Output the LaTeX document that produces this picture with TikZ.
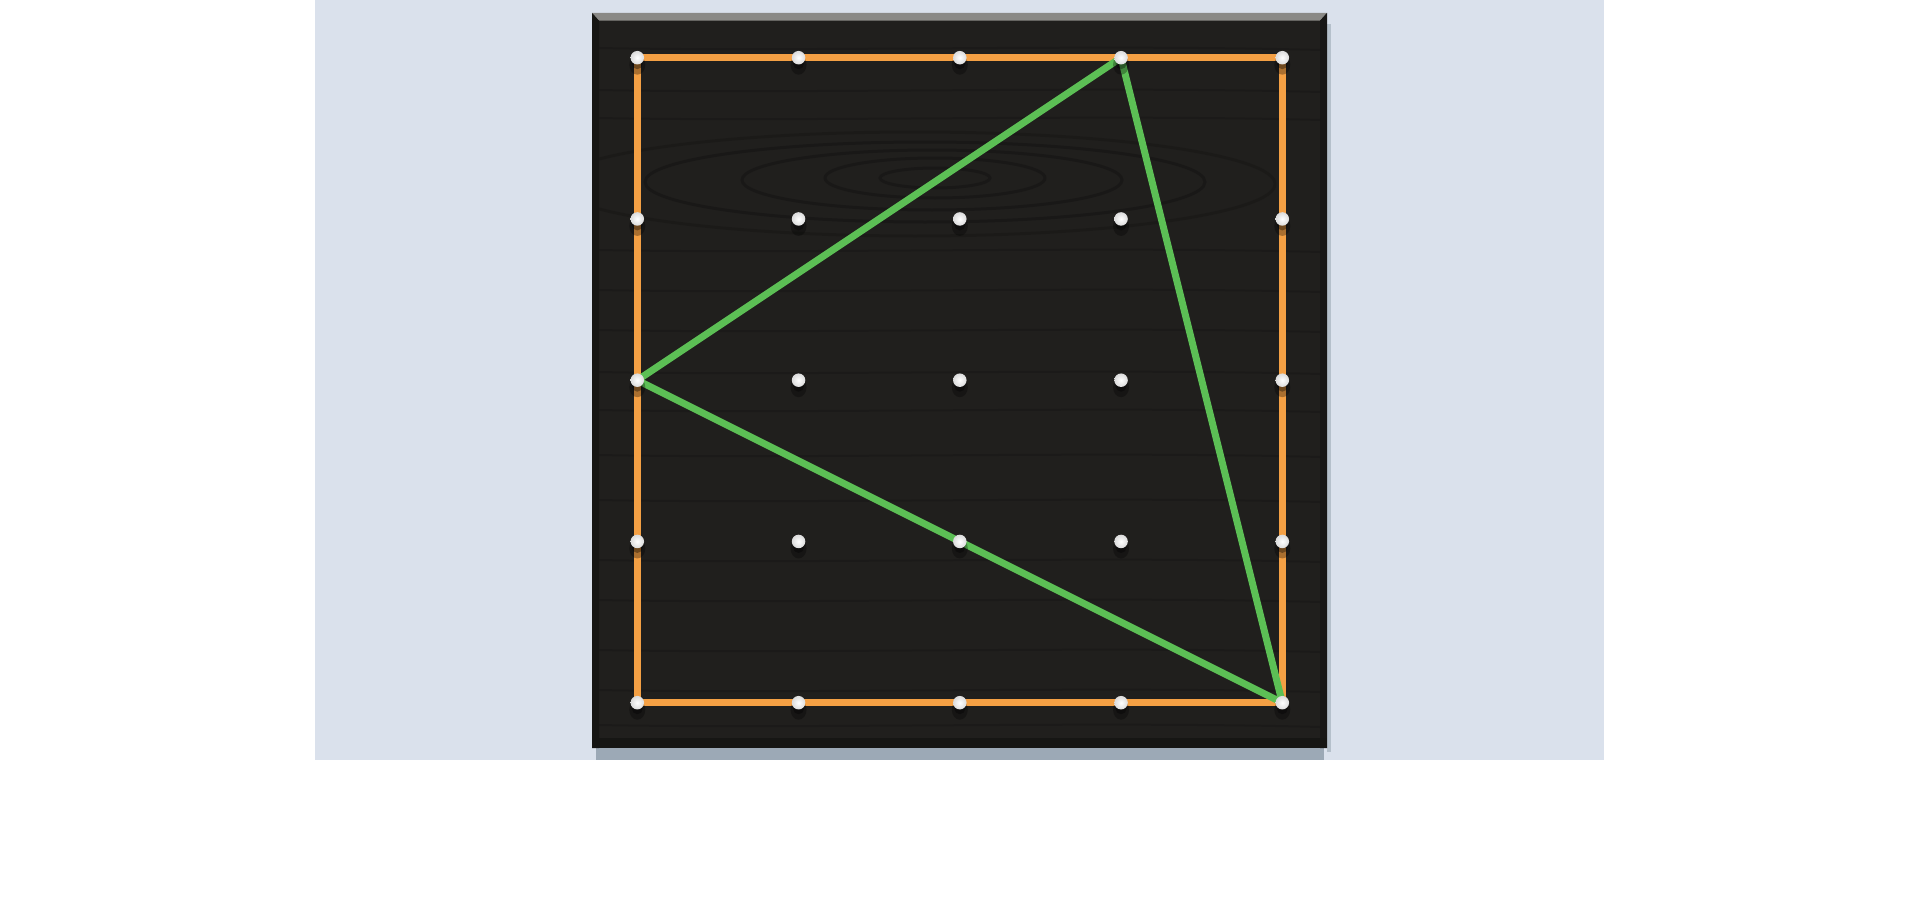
\documentclass[tikz,border=0pt]{standalone}
\definecolor{bgblue}{HTML}{DAE1EC}
\definecolor{board}{HTML}{201F1D}
\definecolor{grain}{HTML}{171615}
\definecolor{bevel}{HTML}{8A8986}
\definecolor{band}{HTML}{F4A044}
\definecolor{rubber}{HTML}{5CBF55}
\definecolor{bshadow}{HTML}{9CA9B6}
\tikzset{
  orangeband/.style={draw=band, line width=7pt, line cap=round, line join=round},
  greenband/.style={draw=rubber, line width=7pt, line cap=round, line join=round},
  pegball/.style={circle, minimum size=13.5pt, inner sep=0pt, shade, inner color=white, outer color=black!14},
  grainline/.style={draw=grain, line width=3pt, opacity=0.7},
}
\begin{document}
\begin{tikzpicture}[x=1pt,y=-1pt]
\useasboundingbox (0,0) rectangle (1920,907);
\fill[white] (0,0) rectangle (1920,907);
\fill[bgblue] (315,0) rectangle (1604,760);
% board shadow
\fill[bshadow] (596,748) rectangle (1324,760);
\fill[bshadow!60!bgblue] (1327,24) rectangle (1331,752);
% board
\fill[board] (592,13) rectangle (1327,748);
\fill[bevel] (592,13) -- (1327,13) -- (1320,20.7) -- (599,20.7) -- cycle;
\fill[black!30!board] (592,13) -- (599,20.7) -- (599,748) -- (592,748) -- cycle;
\fill[black!25!board] (1320,20.7) -- (1327,13) -- (1327,748) -- (1320,748) -- cycle;
\fill[black!30!board] (592,738) rectangle (1327,748);
% wood grain
\begin{scope}
\clip (599,21) rectangle (1320,738);
\draw[grainline] (935,178) ellipse (55 and 10);
\draw[grainline] (935,178) ellipse (110 and 20);
\draw[grainline] (932,180) ellipse (190 and 30);
\draw[grainline] (925,182) ellipse (280 and 40);
\draw[grainline, opacity=0.5] (915,184) ellipse (360 and 52);
\foreach \yy in {48,90,118,250,290,330,372,410,455,500,560,600,650,690,725}{
  \draw[grainline, line width=2pt, opacity=0.45] (599,\yy) .. controls (800,\yy+4) and (1100,\yy-4) .. (1320,\yy+2);
}
\end{scope}
% peg coordinates
\foreach \i in {0,...,4}{
  \foreach \j in {0,...,4}{
    \coordinate (p-\i-\j) at ({637.3+161.25*\i},{57.7+161.25*\j});
  }
}
% orange band around the border pegs
\draw[orangeband] (p-0-0) -- (p-4-0) -- (p-4-4) -- (p-0-4) -- cycle;
% green triangle
\draw[greenband] (p-3-0) -- (p-0-2) -- (p-4-4) -- cycle;
% peg shadows and pegs
\foreach \i in {0,...,4}{
  \foreach \j in {0,...,4}{
    \fill[black, opacity=0.3] ([yshift=-7pt]p-\i-\j) ellipse (8 and 10);
    \fill[black, opacity=0.35] ([yshift=-6pt]p-\i-\j) circle (5.5);
    \node[pegball] (peg-\i-\j) at (p-\i-\j) {};
  }
}
\end{tikzpicture}
\end{document}
